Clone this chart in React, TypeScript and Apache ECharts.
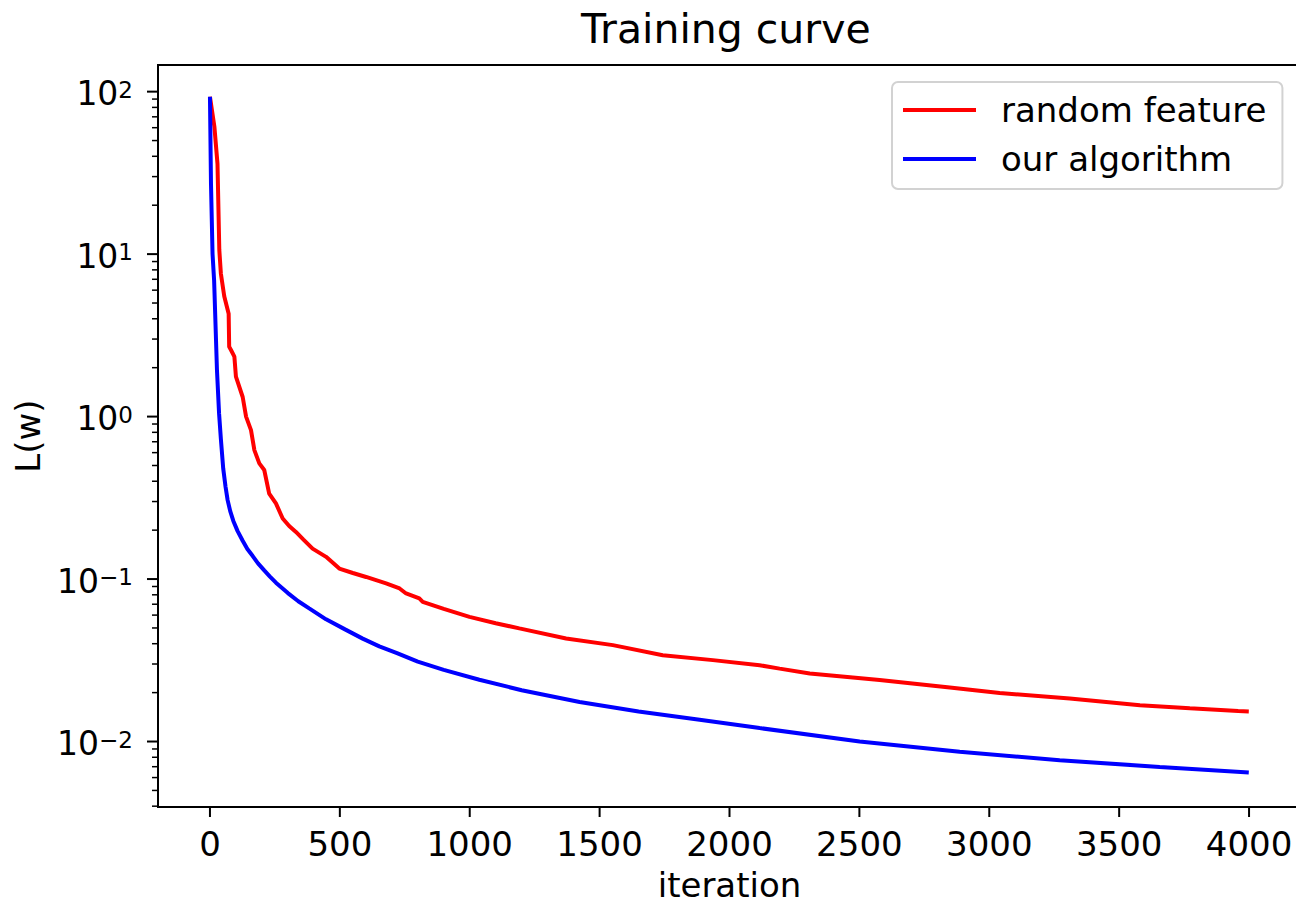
import React, { useEffect, useRef } from "react";
import * as echarts from "echarts";

// Axis ranges (matplotlib-like margins)
const X_MIN = -200;
const X_MAX = 4200;
const Y_MIN = Math.pow(10, -2.403);
const Y_MAX = Math.pow(10, 2.164);

// Tick values
const xTicks = [0, 500, 1000, 1500, 2000, 2500, 3000, 3500, 4000];
const yMajorTicks = [0.01, 0.1, 1, 10, 100];
const yMinorTicks = [
  0.004, 0.005, 0.006, 0.007, 0.008, 0.009,
  0.02, 0.03, 0.04, 0.05, 0.06, 0.07, 0.08, 0.09,
  0.2, 0.3, 0.4, 0.5, 0.6, 0.7, 0.8, 0.9,
  2, 3, 4, 5, 6, 7, 8, 9,
  20, 30, 40, 50, 60, 70, 80, 90,
];

// Series: random feature (red)
const iterRandom = [
  0, 17, 29, 36, 42, 55, 72, 74, 81, 94, 100, 126, 139, 158, 171, 190, 209,
  228, 254, 280, 305, 331, 360, 395, 447, 498, 550, 601, 678, 730, 755, 806,
  819, 900, 999, 1100, 1191, 1371, 1551, 1743, 1936, 2116, 2193, 2309, 2578,
  2848, 3040, 3310, 3580, 3772, 3958, 3999,
];
const lossRandom = [
  93, 61, 36, 10.6, 7.6, 5.5, 4.3, 2.69, 2.57, 2.34, 1.76, 1.32, 1.0, 0.826,
  0.622, 0.515, 0.469, 0.336, 0.292, 0.236, 0.212, 0.195, 0.175, 0.154, 0.137,
  0.116, 0.109, 0.103, 0.094, 0.0875, 0.0815, 0.076, 0.0724, 0.0655, 0.0585,
  0.0535, 0.0497, 0.0431, 0.0392, 0.034, 0.0317, 0.0295, 0.0281, 0.0262,
  0.0239, 0.0215, 0.0199, 0.0184, 0.0167, 0.016, 0.0154, 0.0153,
];

// Series: our algorithm (blue)
const iterOurs = [
  0, 4, 10, 16, 27, 35, 42, 51, 60, 68, 78, 90, 106, 126, 144, 164, 185, 209,
  230, 254, 300, 340, 382, 447, 520, 588, 652, 720, 800, 900, 1037, 1200,
  1423, 1650, 1885, 2116, 2501, 2886, 3271, 3656, 3999,
];
const lossOurs = [
  93, 27, 10, 6.9, 1.93, 1.05, 0.73, 0.48, 0.37, 0.306, 0.262, 0.228, 0.198,
  0.172, 0.153, 0.139, 0.125, 0.113, 0.104, 0.095, 0.082, 0.073, 0.066,
  0.0565, 0.049, 0.043, 0.0385, 0.035, 0.031, 0.0276, 0.024, 0.0207, 0.0175,
  0.0153, 0.0136, 0.0121, 0.01, 0.00865, 0.00767, 0.00698, 0.00644,
];

const FONT = "DejaVu Sans";

export default function App() {
  const ref = useRef<HTMLDivElement>(null);

  useEffect(() => {
    if (!ref.current) return;
    const chart = echarts.init(ref.current, undefined, { renderer: "svg" });

    const tickData = [
      ...xTicks.map((v) => [v, Y_MIN, 0]),
      ...yMajorTicks.map((v) => [X_MIN, v, 1]),
      ...yMinorTicks.map((v) => [X_MIN, v, 2]),
    ];

    const supMap = (e: number) => (e < 0 ? "\u2212" + String(-e) : String(e));

    chart.setOption({
      animation: false,
      backgroundColor: "#ffffff",
      textStyle: { fontFamily: FONT },
      title: {
        text: "Training curve",
        left: 581,
        top: 8,
        padding: 0,
        textStyle: {
          fontFamily: FONT,
          fontSize: 41,
          fontWeight: "normal",
          color: "#000",
          lineHeight: 41,
        },
      },
      grid: {
        left: 158,
        top: 65,
        width: 1143,
        height: 742,
        outerBoundsMode: "none",
        containLabel: false,
        show: true,
        borderColor: "#000",
        borderWidth: 2,
        backgroundColor: "transparent",
      },
      legend: {
        orient: "vertical",
        left: 892,
        top: 82,
        data: ["random feature", "our algorithm"],
        icon: "rect",
        itemWidth: 73,
        itemHeight: 4,
        itemGap: 15,
        padding: [11, 16, 13, 11],
        borderColor: "#d2d2d2",
        borderWidth: 2,
        borderRadius: 6,
        backgroundColor: "#fff",
        textStyle: {
          fontFamily: FONT,
          fontSize: 34,
          color: "#000",
          lineHeight: 34,
          padding: [0, 0, 0, 20],
        },
      },
      xAxis: {
        type: "value",
        min: X_MIN,
        max: X_MAX,
        minInterval: 500,
        maxInterval: 500,
        splitNumber: 9,
        axisLine: { show: false },
        axisTick: { show: false },
        splitLine: { show: false },
        axisLabel: {
          fontFamily: FONT,
          fontSize: 34,
          color: "#000",
          margin: 20,
          showMinLabel: false,
          showMaxLabel: false,
          formatter: (v: number) => String(v),
        },
        name: "iteration",
        nameLocation: "middle",
        nameGap: 61,
        nameTextStyle: { fontFamily: FONT, fontSize: 34, color: "#000", lineHeight: 34 },
      },
      yAxis: {
        type: "log",
        logBase: 10,
        min: Y_MIN,
        max: Y_MAX,
        axisLine: { show: false },
        axisTick: { show: false },
        splitLine: { show: false },
        minorTick: { show: false },
        axisLabel: {
          margin: 25,
          showMinLabel: false,
          showMaxLabel: false,
          formatter: (v: number) => {
            const e = Math.round(Math.log10(v));
            return "{b|10}{s|" + supMap(e) + "}";
          },
          rich: {
            b: { fontFamily: FONT, fontSize: 33, color: "#000", lineHeight: 33, padding: [4, 0, 0, 0] },
            s: { fontFamily: FONT, fontSize: 23, color: "#000", lineHeight: 23, verticalAlign: "top", padding: [3, 0, 0, 0] },
          },
        },
        name: "L(w)",
        nameLocation: "middle",
        nameGap: 113,
        nameTextStyle: { fontFamily: FONT, fontSize: 34, color: "#000", lineHeight: 34 },
      },
      series: [
        {
          name: "random feature",
          type: "line",
          data: iterRandom.map((t, i) => [t, lossRandom[i]]),
          showSymbol: false,
          symbol: "none",
          lineStyle: { color: "#ff0000", width: 4 },
          itemStyle: { color: "#ff0000" },
          z: 2,
        },
        {
          name: "our algorithm",
          type: "line",
          data: iterOurs.map((t, i) => [t, lossOurs[i]]),
          showSymbol: false,
          symbol: "none",
          lineStyle: { color: "#0000ff", width: 4 },
          itemStyle: { color: "#0000ff" },
          z: 3,
        },
        {
          name: "ticks",
          type: "custom",
          silent: true,
          clip: false,
          encode: { x: 0, y: 1 },
          data: tickData,
          renderItem: (params: any, api: any) => {
            const p = api.coord([api.value(0), api.value(1)]);
            const kind = api.value(2);
            let shape;
            if (kind === 0) shape = { x1: p[0], y1: p[1], x2: p[0], y2: p[1] + 10 };
            else if (kind === 1) shape = { x1: p[0] - 11, y1: p[1], x2: p[0], y2: p[1] };
            else shape = { x1: p[0] - 6, y1: p[1], x2: p[0], y2: p[1] };
            return {
              type: "line",
              shape,
              style: { stroke: "#000", lineWidth: kind === 2 ? 1.5 : 2 },
            };
          },
        },
      ],
    });

    return () => chart.dispose();
  }, []);

  return (
    <div
      ref={ref}
      style={{ position: "fixed", left: 0, top: 0, width: 1296, height: 905 }}
    />
  );
}
